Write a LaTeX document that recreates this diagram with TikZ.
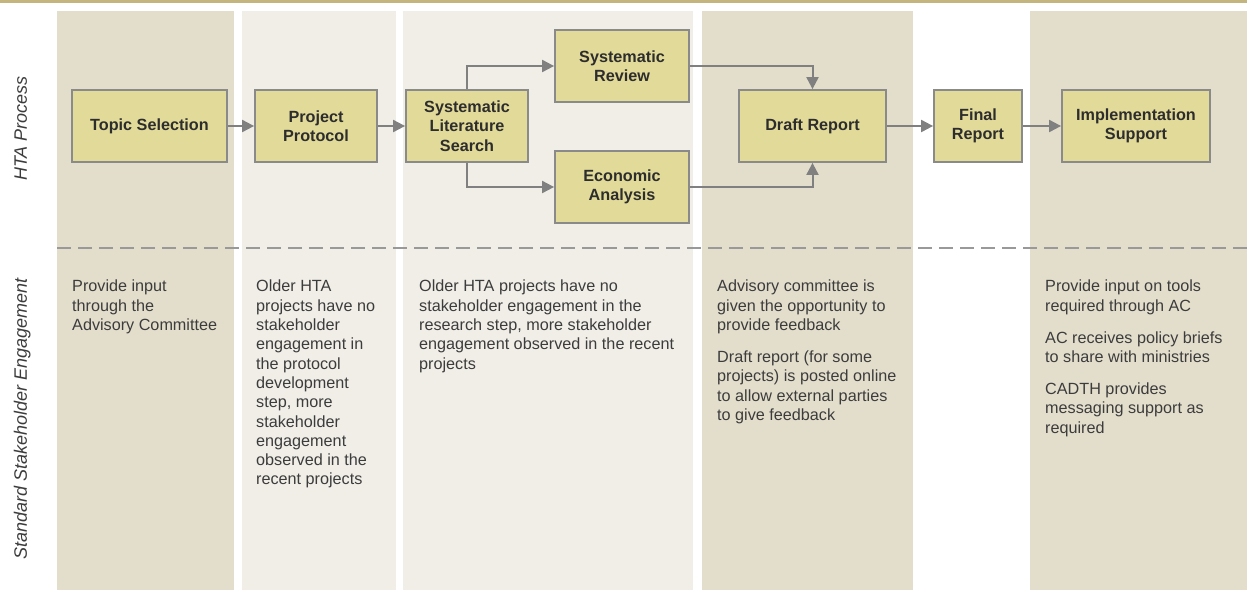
\documentclass[tikz,border=0pt]{standalone}
\usepackage{fontspec}
\setmainfont{Liberation Sans}
\usetikzlibrary{arrows.meta}
\definecolor{laneA}{RGB}{227,222,204}
\definecolor{laneB}{RGB}{240,238,231}
\definecolor{boxfill}{RGB}{226,218,153}
\definecolor{boxline}{RGB}{138,138,138}
\definecolor{goldline}{RGB}{196,180,126}
\definecolor{txt}{RGB}{60,60,60}
\definecolor{boxtxt}{RGB}{45,45,45}
\tikzset{
  stepbox/.style={draw=boxline, line width=1.8pt, fill=boxfill, minimum height=72pt,
    align=center, inner sep=0pt, text=boxtxt, font=\bfseries\fontsize{16.2}{19.3}\selectfont},
  flow/.style={draw=black!50, line width=2pt, -{Triangle[length=12pt,width=12pt]}},
  note/.style={anchor=north west, inner sep=0pt, align=left, text=txt,
    font=\fontsize{16.2}{19.3}\selectfont},
  lane/.style={font=\itshape\fontsize{18}{21}\selectfont, text=txt, rotate=90,
    anchor=base, inner sep=0pt}
}
\begin{document}
\begin{tikzpicture}[x=1pt,y=-1pt]
\useasboundingbox (0,0) rectangle (1247,590);
% background columns
\fill[goldline] (0,0) rectangle (1247,2.7);
\fill[laneA] (57,11) rectangle (234,590);
\fill[laneB] (242,11) rectangle (396,590);
\fill[laneB] (403,11) rectangle (693,590);
\fill[laneA] (702,11) rectangle (913,590);
\fill[laneA] (1030,11) rectangle (1247,590);
\draw[black!40, line width=2pt, dash pattern=on 14pt off 7pt] (57,248) -- (1247,248);
\node[lane] (hta) at (27,128.5) {HTA Process};
\node[lane] (sse) at (27,419) {Standard Stakeholder Engagement};
% process steps
\node[stepbox, minimum width=155pt] (ts) at (149.5,126) {Topic Selection};
\node[stepbox, minimum width=122pt] (pp) at (316,126) {Project\\Protocol};
\node[stepbox, minimum width=122pt] (sls) at (467,126) {Systematic\\Literature\\Search};
\node[stepbox, minimum width=134pt] (sr) at (622,66) {Systematic\\Review};
\node[stepbox, minimum width=134pt] (ea) at (622,187) {Economic\\Analysis};
\node[stepbox, minimum width=147pt] (dr) at (812.5,126) {Draft Report};
\node[stepbox, minimum width=88pt] (fr) at (978,126) {Final\\Report};
\node[stepbox, minimum width=148pt] (is) at (1136,126) {Implementation\\Support};
\draw[flow] (ts) -- (pp);
\draw[flow] (pp) -- (sls);
\draw[flow] (sls.north) |- (sr);
\draw[flow] (sls.south) |- (ea);
\draw[flow] (sr) -| (dr);
\draw[flow] (ea) -| (dr);
\draw[flow] (dr) -- (fr);
\draw[flow] (fr) -- (is);
% engagement notes
\node[note] (n1) at (72,280) {Provide input\\through the\\Advisory Committee};
\node[note] (n2) at (256,280) {Older HTA\\projects have no\\stakeholder\\engagement in\\the protocol\\development\\step, more\\stakeholder\\engagement\\observed in the\\recent projects};
\node[note] (n3) at (419,280) {Older HTA projects have no\\stakeholder engagement in the\\research step, more stakeholder\\engagement observed in the recent\\projects};
\node[note] (n4) at (717,280) {Advisory committee is\\given the opportunity to\\provide feedback\\[12.7pt]Draft report (for some\\projects) is posted online\\to allow external parties\\to give feedback};
\node[note] (n6) at (1045,280) {Provide input on tools\\required through AC\\[12.7pt]AC receives policy briefs\\to share with ministries\\[12.7pt]CADTH provides\\messaging support as\\required};
\end{tikzpicture}
\end{document}
